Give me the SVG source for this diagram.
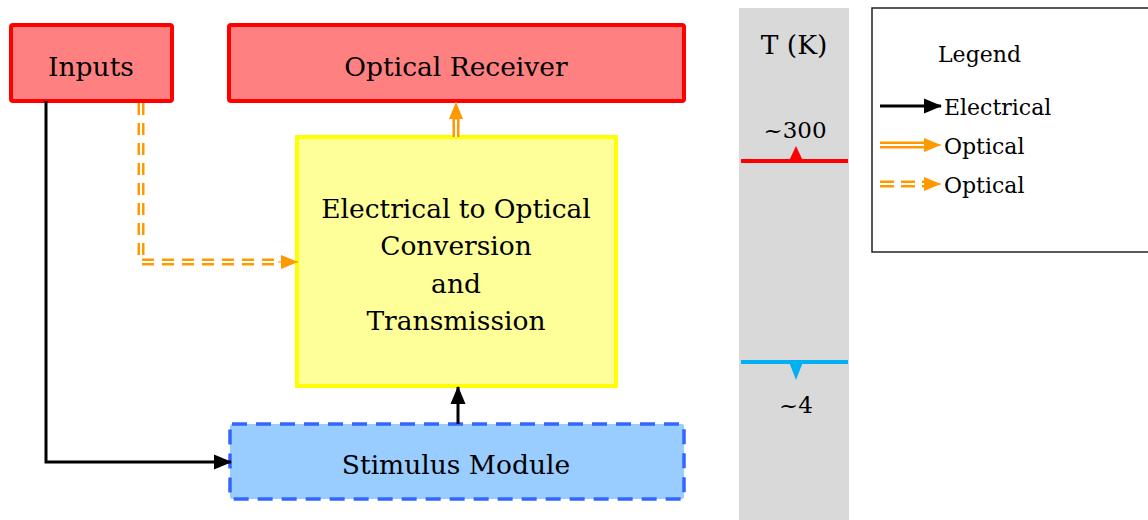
<svg xmlns="http://www.w3.org/2000/svg" width="1148" height="520" viewBox="0 0 1148 520">
<style>
text{font-family:"DejaVu Serif","Liberation Serif",serif;fill:#000}
.lbl{font-size:26.5px;text-anchor:middle;dominant-baseline:central}
.sm{font-size:22px;dominant-baseline:central}
.red{fill:#FF8080;stroke:#FF0000;stroke-width:4}
.elec{stroke:#000;stroke-width:3;fill:none}
.optO{stroke:#FF9900;stroke-width:7;fill:none}
.optI{stroke:#fff;stroke-width:2;fill:none}
</style>
<defs>
<marker id="ab" markerUnits="userSpaceOnUse" markerWidth="18" markerHeight="18" refX="17" refY="9" orient="auto"><path d="M0,1.5 L18,9 L0,16.5 Z" fill="#000"/></marker>
<marker id="ao" markerUnits="userSpaceOnUse" markerWidth="18" markerHeight="18" refX="17" refY="9" orient="auto"><path d="M0,2 L17,9 L0,16 Z" fill="#FF9900"/></marker>
</defs>
<rect x="739" y="8" width="110" height="512" fill="#D9D9D9"/>
<g id="inputs"><rect class="red" x="11" y="25" width="161" height="76" rx="2"/><text class="lbl" x="91" y="66">Inputs</text></g>
<g id="receiver"><rect class="red" x="229" y="25" width="455" height="76" rx="2"/><text class="lbl" x="456" y="66">Optical Receiver</text></g>
<g id="converter"><rect x="297" y="137" width="319" height="249" fill="#FFFF99" stroke="#FFFF00" stroke-width="4"/>
<text class="lbl" x="456" y="208">Electrical to Optical</text><text class="lbl" x="456" y="245">Conversion</text><text class="lbl" x="456" y="283">and</text><text class="lbl" x="456" y="320">Transmission</text></g>
<g id="stimulus"><rect x="230" y="424" width="454" height="75" rx="2" fill="#99CCFF" stroke="#3366FF" stroke-width="3.5" stroke-dasharray="15,9"/><text class="lbl" x="456" y="464">Stimulus Module</text></g>
<g id="connectors">
<path class="elec" d="M46,101 V462 H231" marker-end="url(#ab)"/>
<path class="elec" d="M458,424 V387" marker-end="url(#ab)"/>
<g stroke-dasharray="12,8"><path class="optO" d="M141,103 V262 H282"/><path class="optI" d="M141,103 V262 H282"/></g>
<path d="M278,262 H298" stroke="#FF9900" stroke-width="1" marker-end="url(#ao)"/>
<path class="optO" d="M456,137 V117"/><path class="optI" d="M456,137 V117"/>
<path d="M456,120 V102" stroke="#FF9900" stroke-width="1" marker-end="url(#ao)"/>
</g>
<g id="temperature">
<text class="lbl" x="794" y="44">T (K)</text>
<text class="lbl" x="795" y="130" style="font-size:23px">~300</text>
<rect x="741" y="159" width="107" height="4" fill="#FF0000"/>
<path d="M789,161 L796,146 L803,161 Z" fill="#FF0000"/>
<rect x="741" y="360" width="107" height="4" fill="#00B0F0"/>
<path d="M789,362 L796,380 L803,362 Z" fill="#00B0F0"/>
<text class="lbl" x="796" y="405" style="font-size:23px">~4</text>
</g>
<g id="legend">
<rect x="872" y="8" width="280" height="244" fill="#fff" stroke="#222" stroke-width="1.5"/>
<text class="sm" x="938" y="54">Legend</text>
<path class="elec" d="M880,106 H941" marker-end="url(#ab)"/>
<text class="sm" x="944" y="107">Electrical</text>
<path class="optO" d="M880,145 H927"/><path class="optI" d="M880,145 H927"/>
<path d="M924,145 H941" stroke="#FF9900" stroke-width="1" marker-end="url(#ao)"/>
<text class="sm" x="944" y="146">Optical</text>
<g stroke-dasharray="14,7"><path class="optO" d="M880,184 H927"/><path class="optI" d="M880,184 H927"/></g>
<path d="M924,184 H941" stroke="#FF9900" stroke-width="1" marker-end="url(#ao)"/>
<text class="sm" x="944" y="185">Optical</text>
</g>
</svg>
